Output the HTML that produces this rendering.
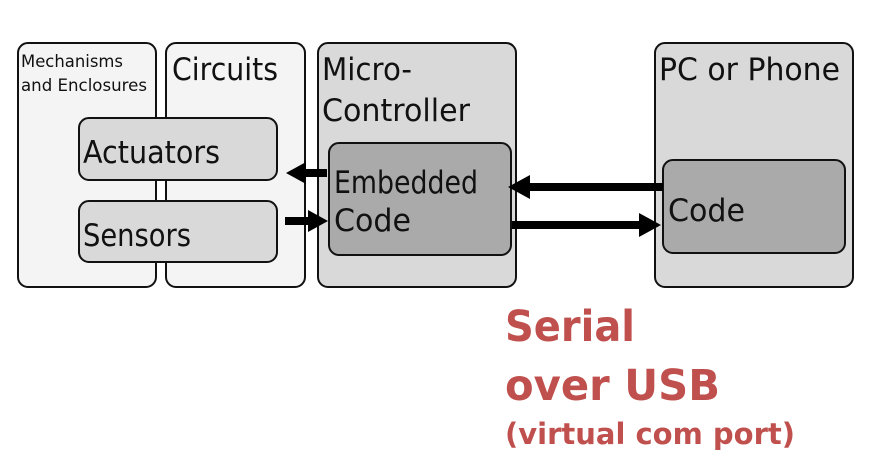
<!DOCTYPE html>
<html><head><style>
body{margin:0;width:872px;height:459px;background:#fff;overflow:hidden;font-family:"DejaVu Sans","Liberation Sans",sans-serif;}
</style></head><body>
<svg width="872" height="459" xmlns="http://www.w3.org/2000/svg" font-family="DejaVu Sans, Liberation Sans, sans-serif">
<g stroke="#111" stroke-width="2">
<rect x="18" y="43" width="138" height="244" rx="10" fill="#f4f4f4"/>
<rect x="166" y="43" width="139" height="244" rx="10" fill="#f4f4f4"/>
<rect x="318" y="43" width="198" height="244" rx="10" fill="#d9d9d9"/>
<rect x="655" y="43" width="198" height="244" rx="10" fill="#d9d9d9"/>
<rect x="79" y="118" width="198" height="62" rx="10" fill="#d9d9d9"/>
<rect x="79" y="201" width="198" height="61" rx="10" fill="#d9d9d9"/>
<rect x="329" y="143" width="182" height="112" rx="10" fill="#aaaaaa"/>
<rect x="663" y="160" width="182" height="93" rx="10" fill="#aaaaaa"/>
</g>
<g fill="#000">
<rect x="300" y="169" width="27" height="8"/><polygon points="286,173 306,162 306,184"/>
<rect x="285" y="217" width="26" height="8"/><polygon points="328,221 308,210 308,232"/>
<rect x="526" y="183" width="137" height="8"/><polygon points="508,187 530,175 530,199"/>
<rect x="512" y="221" width="130" height="8"/><polygon points="661,225 639,213 639,237"/>
</g>
<g fill="#111">
<text x="21" y="67" font-size="17" textLength="102" lengthAdjust="spacingAndGlyphs">Mechanisms</text>
<text x="21" y="91" font-size="17" textLength="126" lengthAdjust="spacingAndGlyphs">and Enclosures</text>
<text x="172" y="80" font-size="31" textLength="106" lengthAdjust="spacingAndGlyphs">Circuits</text>
<text x="322" y="80" font-size="31" textLength="90" lengthAdjust="spacingAndGlyphs">Micro-</text>
<text x="322" y="121" font-size="31" textLength="148" lengthAdjust="spacingAndGlyphs">Controller</text>
<text x="83" y="163" font-size="31" textLength="137" lengthAdjust="spacingAndGlyphs">Actuators</text>
<text x="83" y="246" font-size="31" textLength="108" lengthAdjust="spacingAndGlyphs">Sensors</text>
<text x="334" y="193" font-size="31" textLength="144" lengthAdjust="spacingAndGlyphs">Embedded</text>
<text x="334" y="231" font-size="31" textLength="77" lengthAdjust="spacingAndGlyphs">Code</text>
<text x="659" y="80" font-size="31" textLength="181" lengthAdjust="spacingAndGlyphs">PC or Phone</text>
<text x="668" y="221" font-size="31" textLength="77" lengthAdjust="spacingAndGlyphs">Code</text>
</g>
<g fill="#c0504d" font-weight="bold">
<text x="505" y="341" font-size="43" textLength="130" lengthAdjust="spacingAndGlyphs">Serial</text>
<text x="505" y="400" font-size="43" textLength="215" lengthAdjust="spacingAndGlyphs">over USB</text>
<text x="505" y="444" font-size="29" textLength="290" lengthAdjust="spacingAndGlyphs">(virtual com port)</text>
</g>
</svg>
</body></html>
